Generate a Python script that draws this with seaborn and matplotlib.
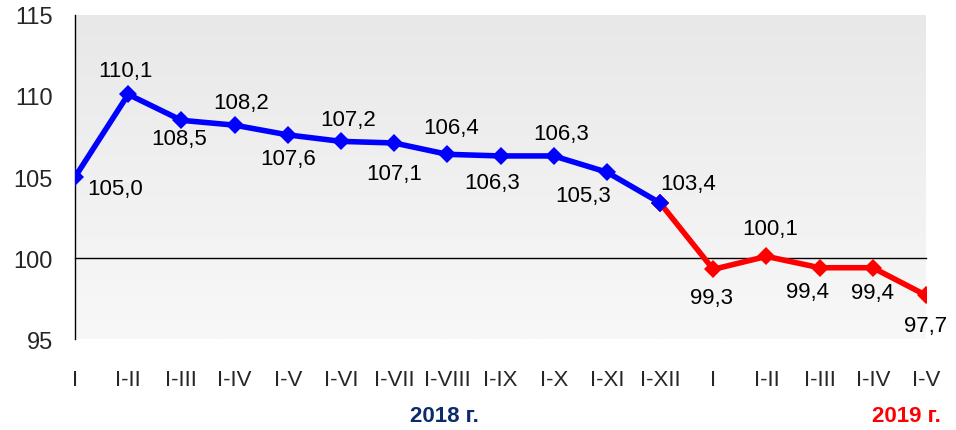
import numpy as np
import pandas as pd
import matplotlib
matplotlib.use("Agg")
import matplotlib.pyplot as plt
import seaborn as sns

# --- Data ---
periods = ["I", "I-II", "I-III", "I-IV", "I-V", "I-VI", "I-VII", "I-VIII",
           "I-IX", "I-X", "I-XI", "I-XII",
           "I", "I-II", "I-III", "I-IV", "I-V"]
values = [105.0, 110.1, 108.5, 108.2, 107.6, 107.2, 107.1, 106.4,
          106.3, 106.3, 105.3, 103.4,
          99.3, 100.1, 99.4, 99.4, 97.7]
year_2018_count = 12
year_labels = ["2018 г.", "2019 г."]

# label offsets (points) relative to each marker
label_offsets = [(29, -8), (-2, 17), (-2, -13), (5, 16), (0, -17), (5, 16),
                 (0, -22), (3, 19), (-6, -19), (5, 16), (-17, -17), (20, 14),
                 (-1, -20), (3, 20), (-9, -17), (0, -18), (0, -22)]

df = pd.DataFrame({"pos": np.arange(len(values)), "value": values})
df_2018 = df.iloc[:year_2018_count]
df_2019 = df.iloc[year_2018_count - 1:]

sns.set_style("white")
plt.rcParams["font.family"] = ["Liberation Sans", "DejaVu Sans"]

fig = plt.figure(figsize=(9.56, 4.31), dpi=100)
ax = fig.add_axes([0.0785, 0.2111, 0.8901, 0.7518])

# gradient background
grad = np.linspace(0, 1, 256).reshape(-1, 1)
ax.imshow(grad, extent=[0, 1, 0, 1], transform=ax.transAxes, aspect="auto",
          cmap=matplotlib.colors.LinearSegmentedColormap.from_list(
              "bg", ["#e8e8e8", "#f8f8f8"]), zorder=0)

sns.lineplot(data=df_2018, x="pos", y="value", color="#0000ff", lw=4,
             marker="D", markersize=9, markeredgewidth=0, ax=ax, zorder=3)
sns.lineplot(data=df_2019, x="pos", y="value", color="#ff0000", lw=4,
             marker="D", markersize=9, markeredgewidth=0, ax=ax, zorder=3)
# keep blue marker on top at the joint
ax.plot(df_2018["pos"].iloc[-1:], df_2018["value"].iloc[-1:], "D",
        color="#0000ff", ms=9, mew=0, zorder=4)

for (x, y), off in zip(zip(df["pos"], df["value"]), label_offsets):
    ax.annotate(f"{y:.1f}".replace(".", ","), (x, y), xytext=off,
                textcoords="offset points", ha="center", va="center",
                fontsize=16, color="black", zorder=5)

ax.set_xlim(0, len(values) - 1)
ax.set_ylim(95, 115)
ax.set_yticks([95, 100, 105, 110, 115])
ax.set_xticks(df["pos"])
ax.set_xticklabels(periods)
ax.set_xlabel("")
ax.set_ylabel("")

for s in ["top", "right"]:
    ax.spines[s].set_visible(False)
ax.spines["bottom"].set_position(("data", 100))
ax.spines["bottom"].set_color("black")
ax.spines["bottom"].set_linewidth(1)
ax.spines["bottom"].set_zorder(2)
ax.spines["left"].set_color("black")
ax.spines["left"].set_linewidth(1)

ax.tick_params(axis="x", direction="out", length=4, color="#606060",
               labelsize=16, pad=76)
ax.tick_params(axis="y", direction="out", length=5, color="#808080",
               labelsize=17, pad=11)

fig.text(444 / 956, 1 - 417 / 431, year_labels[0], color="#0d2a6b",
         fontsize=16, fontweight="bold", ha="center", va="center")
fig.text(906 / 956, 1 - 417 / 431, year_labels[1], color="#ff0000",
         fontsize=16, fontweight="bold", ha="center", va="center")

fig.savefig("out.png", dpi=100)
